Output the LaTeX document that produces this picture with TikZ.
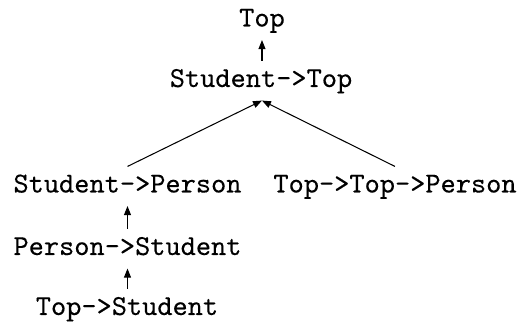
\documentclass[tikz,border=0pt]{standalone}
\usepackage{fontspec}
\newfontfamily\reftt{Latin Modern Mono}[FakeBold=0.2]
\usetikzlibrary{arrows.meta}
\begin{document}
\begin{tikzpicture}[x=0.3454pt,y=-0.3454pt,
  lbl/.style={anchor=base,inner sep=0pt,text height=8.8pt,text depth=4.49pt,
    font=\fontsize{10}{12}\reftt},
  edge/.style={line width=0.36pt,-{Triangle[length=3.1pt,width=2.4pt]}}]
\useasboundingbox (0,0) rectangle (520,324);
\node[lbl] (top) at (262,26.5) {Top};
\node[lbl] (st) at (261,87) {Student->Top};
\node[lbl] (sp) at (127.5,192.5) {Student->Person};
\node[lbl] (ttp) at (395,192.5) {Top->Top->Person};
\node[lbl] (ps) at (127.5,255) {Person->Student};
\node[lbl] (ts) at (127,315) {Top->Student};
\draw[edge] (st.north -| top) -- (top.south);
\draw[edge] (sp.north) -- (st.south -| top);
\draw[edge] (ttp.north) -- (st.south -| top);
\draw[edge] (ps.north) -- (sp.south);
\draw[edge] (ts.north -| ps) -- (ps.south);
\end{tikzpicture}
\end{document}
